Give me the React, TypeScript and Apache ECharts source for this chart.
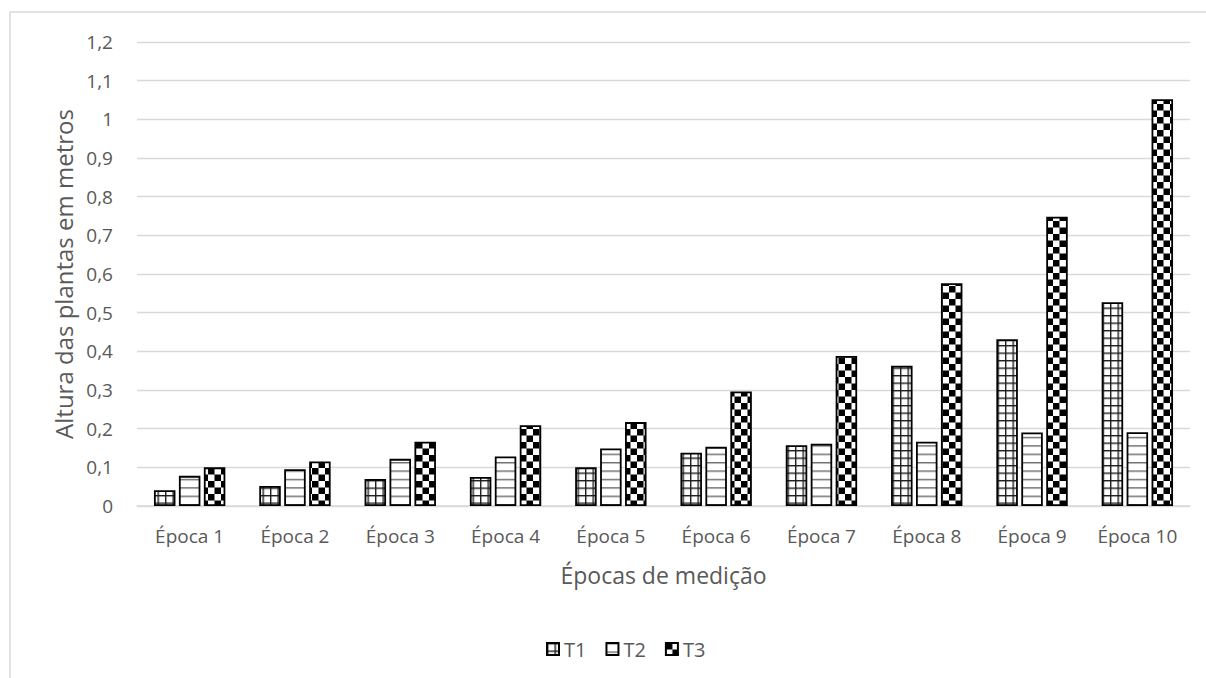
import React, { useEffect, useRef } from "react";
import * as echarts from "echarts";

const categories = ["Época 1", "Época 2", "Época 3", "Época 4", "Época 5", "Época 6", "Época 7", "Época 8", "Época 9", "Época 10"];
const t1Values = [0.041, 0.052, 0.07, 0.075, 0.1, 0.138, 0.157, 0.363, 0.431, 0.527];
const t2Values = [0.078, 0.095, 0.122, 0.128, 0.149, 0.153, 0.161, 0.166, 0.19, 0.191];
const t3Values = [0.1, 0.115, 0.166, 0.209, 0.217, 0.296, 0.388, 0.576, 0.748, 1.052];
const seriesNames = ["T1", "T2", "T3"];

const FONT = "'Open Sans', 'Noto Sans', sans-serif";
const TXT = "#595959";

function makePattern(kind: string, size: number) {
  const S = 4;
  const c = document.createElement("canvas");
  const px = Math.round(size * S);
  c.width = px;
  c.height = px;
  const ctx = c.getContext("2d")!;
  ctx.fillStyle = "#ffffff";
  ctx.fillRect(0, 0, px, px);
  if (kind === "grid") {
    ctx.fillStyle = "#1a1a1a";
    ctx.fillRect(0, 0, px, 1.4 * S);
    ctx.fillRect(0, 0, 1.4 * S, px);
  } else if (kind === "hline") {
    ctx.fillStyle = "#6f6f6f";
    ctx.fillRect(0, 0, px, 1.5 * S);
  } else {
    const h = px / 2;
    ctx.fillStyle = "#000000";
    ctx.fillRect(0, 0, h, h);
    ctx.fillRect(h, h, h, h);
  }
  return { image: c.toDataURL(), repeat: "repeat", imageWidth: size, imageHeight: size };
}

export default function App() {
  const ref = useRef<HTMLDivElement>(null);
  useEffect(() => {
    if (!ref.current) return;
    const chart = echarts.init(ref.current, null, { renderer: "svg" });
    const patterns = [makePattern("grid", 7.5), makePattern("hline", 8.4), makePattern("checker", 13)];
    const data = [t1Values, t2Values, t3Values];
    chart.setOption({
      animation: false,
      backgroundColor: "#ffffff",
      graphic: [
        {
          type: "rect",
          shape: { x: 10, y: 12, width: 1400, height: 900 },
          style: { fill: "none", stroke: "#d9d9d9", lineWidth: 1.5 },
          silent: true,
          z: -1,
        },
      ],
      grid: { left: 137, right: 16, top: 42, bottom: 172, containLabel: false },
      legend: {
        left: 541,
        top: 634,
        itemWidth: 12,
        itemHeight: 12,
        itemGap: 19,
        icon: "rect",
        data: seriesNames,
        textStyle: { color: TXT, fontFamily: FONT, fontSize: 20 },
      },
      xAxis: {
        type: "category",
        data: categories,
        name: "Épocas de medição",
        nameLocation: "middle",
        nameGap: 57,
        nameTextStyle: { color: TXT, fontFamily: FONT, fontSize: 23 },
        axisLine: { lineStyle: { color: "#d9d9d9", width: 1.5 } },
        axisTick: { show: false },
        axisLabel: { color: TXT, fontFamily: FONT, fontSize: 19, margin: 20 },
      },
      yAxis: {
        type: "value",
        min: 0,
        max: 1.2,
        interval: 0.1,
        name: "Altura das plantas em metros",
        nameLocation: "middle",
        nameGap: 62,
        nameTextStyle: { color: TXT, fontFamily: FONT, fontSize: 24 },
        axisLine: { show: false },
        axisTick: { show: false },
        splitLine: { lineStyle: { color: "#d9d9d9", width: 1.3 } },
        axisLabel: {
          color: TXT,
          fontFamily: FONT,
          fontSize: 19,
          margin: 24,
          formatter: (v: number) => String(Math.round(v * 10) / 10).replace(".", ","),
        },
      },
      series: data.map((d, i) => ({
        name: seriesNames[i],
        type: "bar",
        data: d,
        barWidth: 21.5,
        barGap: "16%",
        itemStyle: { color: patterns[i], borderColor: "#000000", borderWidth: 1.8 },
      })),
    });
    return () => chart.dispose();
  }, []);
  return (
    <div
      ref={ref}
      style={{ position: "absolute", left: 0, top: 0, width: 1206, height: 678 }}
    />
  );
}
